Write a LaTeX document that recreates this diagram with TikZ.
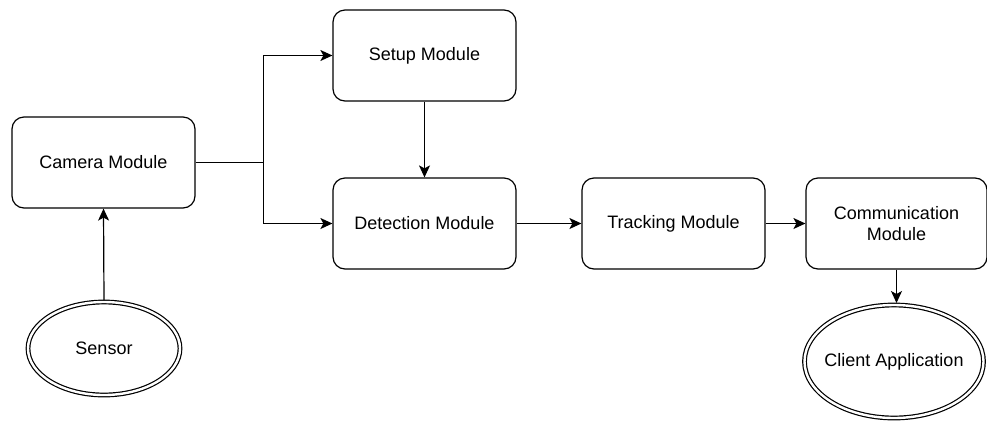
\documentclass[tikz,border=0pt]{standalone}
\usepackage{fontspec}
\setmainfont{Liberation Sans}
\usetikzlibrary{arrows.meta,shapes.geometric}

\begin{document}
\begin{tikzpicture}[x=1pt,y=-1pt,line width=1.2pt,
  font=\fontsize{18}{21.5}\selectfont,
  module/.style={draw,rounded corners=12pt,minimum width=183pt,minimum height=91pt,
    inner sep=0pt,align=center},
  endpoint/.style={ellipse,draw,double,double distance=2.4pt,inner sep=0pt,outer sep=2pt},
  flow/.style={-{Stealth[length=12pt,width=11pt,inset=3pt]}}]
\useasboundingbox (0,0) rectangle (987,421);
% modules
\node [module] (camera) at (103.5,162.5) {Camera Module};
\node [module] (setup) at (424.5,55.5) {Setup Module};
\node [module] (detect) at (424.5,223.5) {Detection Module};
\node [module] (track) at (673.5,223.5) {Tracking Module};
\node [module,minimum width=181pt] (comm) at (896.5,223.5) {Communication\\Module};
% sensor and client
\node [endpoint,minimum width=152pt,minimum height=93pt] (sensor) at (104,348.5)
  {\makebox[0pt]{Sensor}};
\node [endpoint,minimum width=179pt,minimum height=113pt] (client) at (894,361.5)
  {\makebox[0pt]{Client Application}};
% connectors
\coordinate (split) at (263.5,162.5);
\draw (camera.east) -- (split);
\draw [flow] (split) |- (setup.west);
\draw [flow] (split) |- (detect.west);
\draw [flow] (setup.south) -- (detect.north);
\draw [flow] (detect.east) -- (track.west);
\draw [flow] (track.east) -- (comm.west);
\draw [flow] (comm.south) -- (comm.south |- client.north);
\draw [flow] (sensor.north) -- (camera.south);
\end{tikzpicture}
\end{document}
